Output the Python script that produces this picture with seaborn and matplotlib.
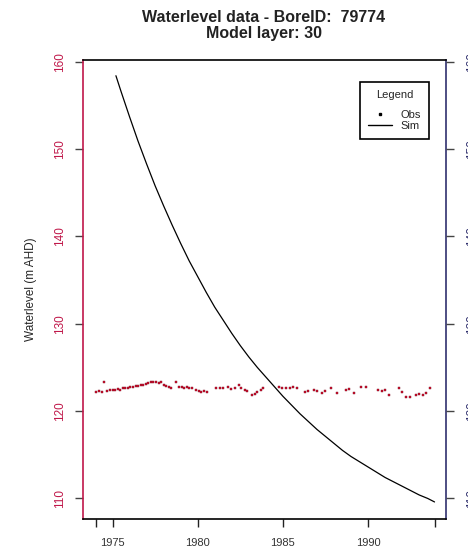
"""Waterlevel observed vs simulated for one bore."""
import matplotlib
matplotlib.use("Agg")
import matplotlib.pyplot as plt
from matplotlib.lines import Line2D
import seaborn as sns

sns.set_theme(style="white")
plt.rcParams["font.family"] = ["Liberation Sans", "DejaVu Sans"]

# ---- data ----
sim_year = [1975.2, 1975.5, 1976.0, 1976.5, 1977.0, 1977.5, 1978.0, 1978.5, 1979.0, 1979.5,
            1980.0, 1980.5, 1981.0, 1981.5, 1982.0, 1982.5, 1983.0, 1983.5, 1984.0, 1984.5,
            1985.0, 1985.5, 1986.0, 1986.5, 1987.0, 1987.5, 1988.0, 1988.5, 1989.0, 1989.5,
            1990.0, 1990.5, 1991.0, 1991.5, 1992.0, 1992.5, 1993.0, 1993.5, 1993.9]
sim_level = [158.4, 156.6, 153.7, 150.9, 148.3, 145.8, 143.5, 141.3, 139.2, 137.2,
             135.4, 133.6, 131.9, 130.4, 128.9, 127.5, 126.2, 125.0, 123.9, 122.8,
             121.7, 120.7, 119.7, 118.8, 117.9, 117.1, 116.3, 115.5, 114.8, 114.2,
             113.6, 113.0, 112.4, 111.9, 111.4, 110.9, 110.4, 110.0, 109.6]

obs_year = [1974.06, 1974.2, 1974.36, 1974.5, 1974.7, 1974.85, 1975.0, 1975.15, 1975.3, 1975.45,
            1975.6, 1975.75, 1975.9, 1976.05, 1976.2, 1976.35, 1976.5, 1976.65, 1976.8, 1976.95,
            1977.1, 1977.25, 1977.4, 1977.55, 1977.7, 1977.85, 1978.0, 1978.15, 1978.3, 1978.45,
            1978.7, 1978.9, 1979.05, 1979.2, 1979.35, 1979.5, 1979.65, 1979.9, 1980.05, 1980.2,
            1980.35, 1980.55, 1981.1, 1981.3, 1981.5, 1981.75, 1981.95, 1982.2, 1982.4, 1982.55,
            1982.75, 1982.9, 1983.2, 1983.35, 1983.5, 1983.7, 1983.85, 1984.8, 1984.95, 1985.2,
            1985.4, 1985.6, 1985.85, 1986.3, 1986.45, 1986.8, 1987.0, 1987.3, 1987.5, 1987.8,
            1988.2, 1988.7, 1988.9, 1989.2, 1989.6, 1989.85, 1990.6, 1990.8, 1991.0, 1991.2,
            1991.8, 1992.0, 1992.25, 1992.45, 1992.8, 1993.0, 1993.2, 1993.4, 1993.65]
obs_level = [122.2, 122.3, 122.2, 123.35, 122.3, 122.4, 122.4, 122.4, 122.5, 122.4,
             122.6, 122.7, 122.7, 122.8, 122.8, 122.9, 122.9, 123.0, 123.0, 123.1,
             123.2, 123.3, 123.3, 123.3, 123.2, 123.3, 123.0, 122.9, 122.8, 122.6,
             123.35, 122.8, 122.75, 122.7, 122.75, 122.6, 122.6, 122.4, 122.3, 122.2,
             122.3, 122.2, 122.7, 122.6, 122.7, 122.8, 122.5, 122.7, 123.0, 122.7,
             122.4, 122.3, 121.9, 122.0, 122.2, 122.4, 122.6, 122.8, 122.6, 122.7,
             122.7, 122.8, 122.6, 122.2, 122.3, 122.4, 122.3, 122.1, 122.3, 122.6,
             122.1, 122.4, 122.5, 122.1, 122.8, 122.8, 122.4, 122.3, 122.4, 121.9,
             122.6, 122.2, 121.6, 121.6, 121.9, 122.0, 121.8, 122.1, 122.6]

y_ticks = [110, 120, 130, 140, 150, 160]
x_ticks = [1974.05, 1975, 1980, 1985, 1990, 1993.9]
x_labels = ["", "1975", "1980", "1985", "1990", ""]

RED = "#c0184a"
NAVY = "#30306e"

fig = plt.figure(figsize=(4.68, 5.55), dpi=100)
ax = fig.add_axes([0.1767, 0.0649, 0.7773, 0.8270])

sns.scatterplot(x=obs_year, y=obs_level, ax=ax, color="#d8102e", marker="s", s=3.5,
                edgecolor="#7a0a20", linewidth=0.3, zorder=3)
sns.lineplot(x=sim_year, y=sim_level, ax=ax, color="black", lw=0.9, zorder=2)

ax.set_xlim(1973.25, 1994.6)
ax.set_ylim(107.65, 160.2)
ax.set_xticks(x_ticks)
ax.set_xticklabels(x_labels, fontsize=8, color="#333333")
ax.set_yticks(y_ticks)
ax.set_yticklabels([str(v) for v in y_ticks], fontsize=8.5, color=RED,
                   rotation=90, va="center")
ax.tick_params(axis="x", direction="out", length=6, width=1, color="#222222",
               bottom=True, pad=8)
ax.tick_params(axis="y", direction="out", length=6, width=1, color="#444444",
               left=True, pad=6)
ax.set_ylabel("Waterlevel (m AHD)", fontsize=8.5, labelpad=12)
ax.grid(False)

for name, col in [("top", "black"), ("bottom", "black"), ("left", RED), ("right", NAVY)]:
    ax.spines[name].set_color(col)
    ax.spines[name].set_linewidth(1.2)

# right axis, labels fall off the image edge as in the source
ax2 = ax.twinx()
ax2.set_ylim(ax.get_ylim())
ax2.set_yticks(y_ticks)
ax2.set_yticklabels([str(v) for v in y_ticks], fontsize=8.5, color=NAVY,
                    rotation=90, va="center")
ax2.tick_params(axis="y", direction="out", length=6, width=1, color="#444444",
                right=True, pad=8)
ax2.grid(False)
for s in ax2.spines.values():
    s.set_visible(False)

handles = [Line2D([], [], marker="s", ls="none", color="black", markersize=1.5),
           Line2D([], [], color="black", lw=1.0)]
leg = ax.legend(handles, ["Obs", "Sim"], title="Legend", loc="upper right",
                bbox_to_anchor=(0.952, 0.952), borderaxespad=0, fontsize=8,
                title_fontsize=8, fancybox=False, framealpha=1,
                edgecolor="black", handlelength=2.2, handletextpad=0.8,
                labelspacing=0.15, borderpad=0.7)
leg.get_frame().set_linewidth(1.2)
leg._legend_box.sep = 7

fig.text(0.5633, 0.982, "Waterlevel data - BoreID:  79774\nModel layer: 30",
         ha="center", va="top", fontsize=11.5, weight="bold", color="#222222",
         linespacing=1.1)

fig.savefig("out.png", dpi=100)
